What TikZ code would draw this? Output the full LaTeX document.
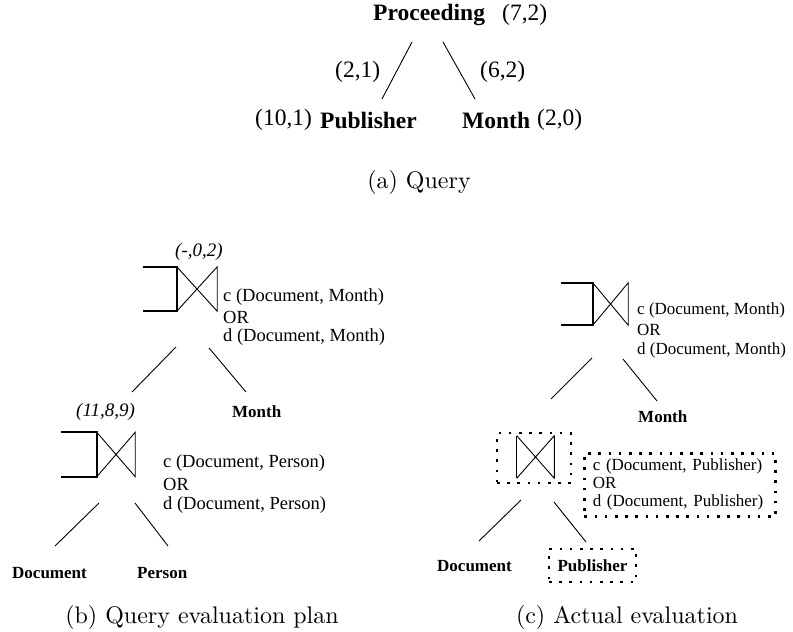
\documentclass[tikz,border=0pt]{standalone}
\usepackage{fontspec}
\newfontfamily\tnr{Liberation Serif}
\newfontfamily\capfont{lmroman10-regular.otf}
\usetikzlibrary{calc}

\begin{document}
\begin{tikzpicture}[x=1pt,y=-1pt,
  txt/.style={inner sep=0pt, anchor=west},
  big/.style={txt, font=\tnr\fontsize{23.5}{26}\selectfont},
  bigb/.style={txt, font=\tnr\bfseries\fontsize{23.5}{26}\selectfont},
  plan/.style={txt, font=\tnr\fontsize{18.5}{20}\selectfont},
  plansm/.style={txt, font=\tnr\fontsize{17}{20}\selectfont},
  planit/.style={txt, font=\tnr\itshape\fontsize{19}{22}\selectfont},
  leaf/.style={txt, font=\tnr\bfseries\fontsize{17}{18}\selectfont},
  caption/.style={inner sep=0pt, font=\capfont\fontsize{24}{28}\selectfont},
  edge/.style={line width=0.9pt},
  joinbox/.style={inner sep=0pt, minimum width=#1, minimum height=44pt},
  bracket/.style={line width=1.7pt},
  dotbox/.style={draw, line width=2.6pt, dash pattern=on 2.6pt off 7.6pt},
]
\useasboundingbox (0,0) rectangle (793,632);

% ---------- (a) the query ----------
\node[bigb] (proc) at (373,15) {Proceeding};
\node[big]  (procw) at (502,15) {(7,2)};
\node[big]  (wl) at (335,72) {(2,1)};
\node[big]  (wr) at (480,72) {(6,2)};
\node[big]  (pubw) at (255,120) {(10,1)};
\node[bigb] (pub) at (320,120) {Publisher};
\node[bigb] (mon) at (462,120) {Month};
\node[big]  (monw) at (537,120) {(2,0)};
\coordinate (qa1) at (412,42);  \coordinate (qa2) at (382,99);
\coordinate (qb1) at (443,42);  \coordinate (qb2) at (475,99);
\draw[edge] (qa1) -- (qa2);
\draw[edge] (qb1) -- (qb2);
\node[caption] (capa) at (419,182) {(a) Query};

% ---------- (b) query evaluation plan ----------
% upper join
\node[planit] (cost1) at (175,252) {(-,0,2)};
\node[joinbox=40pt] (j1) at (197,289) {};
\draw[bracket] ($(j1.north west)+(-34,0)$) -- (j1.north west) -- (j1.south west) -- ++(-34,0);
\draw[edge] (j1.north west) -- (j1.south east) -- (j1.north east) -- (j1.south west);
\node[plan] (c1) at (223,297) {c (Document, Month)};
\node[plan] (o1) at (223,317) {OR};
\node[plan] (d1) at (223,337) {d (Document, Month)};
\coordinate (ba1) at (176,347); \coordinate (ba2) at (132,392);
\coordinate (bb1) at (209,348); \coordinate (bb2) at (246,392);
\draw[edge] (ba1) -- (ba2);
\draw[edge] (bb1) -- (bb2);
\node[planit] (cost2) at (76,412) {(11,8,9)};
\node[leaf] (bmon) at (232,412) {Month};
% lower join
\node[joinbox=38pt] (j2) at (116,454.5) {};
\draw[bracket] ($(j2.north west)+(-36,0)$) -- (j2.north west) -- (j2.south west) -- ++(-36,0);
\draw[edge] (j2.north west) -- (j2.south east) -- (j2.north east) -- (j2.south west);
\node[plan] (c2) at (163,463) {c (Document, Person)};
\node[plan] (o2) at (163,484) {OR};
\node[plan] (d2) at (163,505) {d (Document, Person)};
\coordinate (bc1) at (99,503);  \coordinate (bc2) at (55,546);
\coordinate (bd1) at (135,503); \coordinate (bd2) at (168,546);
\draw[edge] (bc1) -- (bc2);
\draw[edge] (bd1) -- (bd2);
\node[leaf] (bdoc) at (12,573) {Document};
\node[leaf] (bper) at (137,573) {Person};
\node[caption] (capb) at (202,617) {(b) Query evaluation plan};

% ---------- (c) actual evaluation ----------
% upper join
\node[joinbox=35pt, minimum height=42pt] (j3) at (610.5,304) {};
\draw[bracket] ($(j3.north west)+(-32,0)$) -- (j3.north west) -- (j3.south west) -- ++(-32,0);
\draw[edge] (j3.north west) -- (j3.south east) -- (j3.north east) -- (j3.south west);
\node[plansm] (c3) at (637,310) {c (Document, Month)};
\node[plansm] (o3) at (637,330) {OR};
\node[plansm] (d3) at (637,350) {d (Document, Month)};
\coordinate (ca1) at (592,358); \coordinate (ca2) at (551,399);
\coordinate (cb1) at (623,359); \coordinate (cb2) at (657,401);
\draw[edge] (ca1) -- (ca2);
\draw[edge] (cb1) -- (cb2);
\node[leaf] (cmon) at (638,417) {Month};
% lower join, executed
\node[dotbox, inner sep=0pt, minimum width=74pt, minimum height=50pt] (j4box) at (534,458) {};
\node[joinbox=37pt, minimum height=42pt] (j4) at (535.5,457) {};
\draw[line width=1.3pt] (j4.north west) -- (j4.south west);
\draw[edge] (j4.north west) -- (j4.south east) -- (j4.north east) -- (j4.south west);
\draw[line width=1.3pt] (j4.north east) -- (j4.south east);
\node[dotbox, anchor=north west, inner sep=0pt, minimum width=191pt, minimum height=63pt,
      text width=174pt, align=left, font=\tnr\fontsize{17}{18}\selectfont] (cond)
      at (583,452) {c (Document, Publisher)\\OR\\d (Document, Publisher)};
\coordinate (cc1) at (521,500); \coordinate (cc2) at (479,541);
\coordinate (cd1) at (554,502); \coordinate (cd2) at (586,542);
\draw[edge] (cc1) -- (cc2);
\draw[edge] (cd1) -- (cd2);
\node[leaf] (cdoc) at (437,566) {Document};
\node[dotbox, inner sep=0pt, minimum width=87pt, minimum height=33pt] (pubbox) at (592.5,565.5) {};
\node[leaf, anchor=center] (cpub) at (pubbox.center) {Publisher};
\node[caption] (capc) at (627,617) {(c) Actual evaluation};
\end{tikzpicture}
\end{document}
